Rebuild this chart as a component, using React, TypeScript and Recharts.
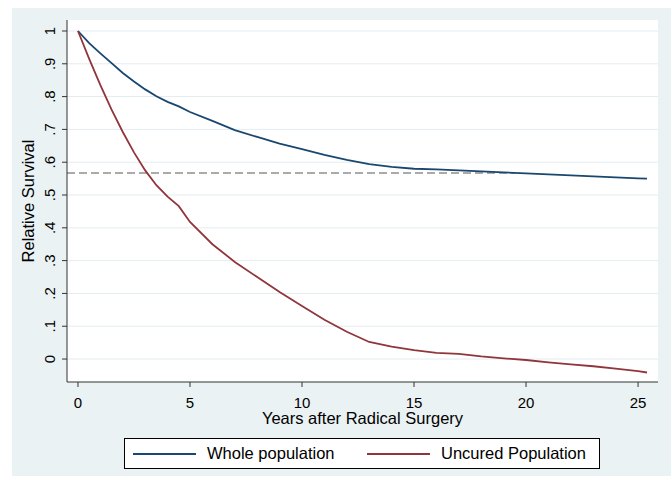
import { LineChart, Line, XAxis, YAxis, CartesianGrid, ReferenceLine } from 'recharts';

const years = [0, 0.5, 1, 1.5, 2, 2.5, 3, 3.5, 4, 4.5, 5, 6, 7, 8, 9, 10, 11, 12, 13, 14, 15, 16, 17, 18, 19, 20, 21, 22, 23, 24, 25, 25.4];

const wholePopulation = [
  1.0, 0.963, 0.932, 0.902, 0.872, 0.846, 0.822, 0.801, 0.784, 0.77, 0.753, 0.726, 0.698, 0.677, 0.657, 0.64,
  0.622, 0.607, 0.594, 0.586, 0.58, 0.578, 0.575, 0.572, 0.569, 0.566, 0.563, 0.56, 0.557, 0.554, 0.551, 0.55,
];

const uncuredPopulation = [
  1.0, 0.915, 0.835, 0.76, 0.692, 0.63, 0.575, 0.53, 0.495, 0.466, 0.418, 0.35, 0.296, 0.25, 0.204, 0.162,
  0.12, 0.083, 0.052, 0.038, 0.027, 0.019, 0.016, 0.008, 0.002, -0.003, -0.01, -0.016, -0.022, -0.029, -0.037, -0.041,
];

const xTicks = [0, 5, 10, 15, 20, 25];
const yTicks = [0, 0.1, 0.2, 0.3, 0.4, 0.5, 0.6, 0.7, 0.8, 0.9, 1];
const cureLevel = 0.567;
const cureLineEnd = 19.5;

const series = [
  { key: 'whole', name: 'Whole population', color: '#1a476f' },
  { key: 'uncured', name: 'Uncured Population', color: '#90353b' },
];

const data = years.map((t, i) => ({ t, whole: wholePopulation[i], uncured: uncuredPopulation[i] }));

const font = '"Liberation Sans", Arial, sans-serif';

const fmtY = (v: number) => (v === 0 ? '0' : v === 1 ? '1' : String(Math.round(v * 10) / 10).replace(/^0/, ''));

function YTick(props: any) {
  const { x, y, payload } = props;
  const cx = x - 5;
  return (
    <text x={cx} y={y} transform={`rotate(-90 ${cx} ${y})`} textAnchor="middle" fontSize={15} fill="#000" fontFamily={font}>
      {fmtY(payload.value)}
    </text>
  );
}

export default function App() {
  return (
    <div style={{ position: 'absolute', left: 0, top: 0, width: 671, height: 479, background: '#fff', fontFamily: font }}>
      <div style={{ position: 'absolute', left: 12, top: 8, width: 659, height: 468, background: '#eaf2f3' }}>
        <LineChart width={659} height={468} data={data} margin={{ top: 12, right: 13, left: 0, bottom: 0 }}>
          <CartesianGrid vertical={false} stroke="#e3ecf0" fill="#ffffff" horizontalValues={yTicks} />
          <XAxis
            type="number"
            dataKey="t"
            domain={[-0.49, 25.89]}
            ticks={xTicks}
            height={94}
            tickSize={5}
            tickMargin={10}
            stroke="#333"
            tick={{ fontSize: 15, fill: '#000', fontFamily: font }}
            label={{
              content: (p: any) => {
                const vb = p.viewBox || { x: 55, y: 374, width: 591 };
                return (
                  <text x={vb.x + vb.width / 2} y={vb.y + 42} textAnchor="middle" fontSize={16.5} fill="#000" fontFamily={font}>
                    Years after Radical Surgery
                  </text>
                );
              },
            }}
          />
          <YAxis
            type="number"
            domain={[-0.07, 1.0335]}
            ticks={yTicks}
            width={55}
            tickSize={5}
            tickMargin={2}
            stroke="#333"
            tick={<YTick />}
            label={{
              content: (p: any) => {
                const vb = p.viewBox || { x: 0, y: 12, height: 362 };
                const cy = vb.y + vb.height / 2;
                return (
                  <text x={22} y={cy} transform={`rotate(-90 22 ${cy})`} textAnchor="middle" fontSize={16.5} fill="#000" fontFamily={font}>
                    Relative Survival
                  </text>
                );
              },
            }}
          />
          <ReferenceLine
            segment={[
              { x: -0.49, y: cureLevel },
              { x: cureLineEnd, y: cureLevel },
            ]}
            stroke="#8f8f8f"
            strokeWidth={1.5}
            strokeDasharray="8 4"
          />
          {series.map((s) => (
            <Line
              key={s.key}
              type="linear"
              dataKey={s.key}
              name={s.name}
              stroke={s.color}
              strokeWidth={1.8}
              dot={false}
              isAnimationActive={false}
            />
          ))}
        </LineChart>
      </div>
      <div
        style={{
          position: 'absolute',
          left: 124,
          top: 438,
          width: 476,
          height: 31,
          boxSizing: 'border-box',
          border: '1px solid #000',
          background: '#fff',
          fontSize: 16.5,
        }}
      >
        {series.map((s, i) => (
          <div key={s.key} style={{ position: 'absolute', left: i === 0 ? 8 : 242, top: 0, height: 29, display: 'flex', alignItems: 'center' }}>
            <div style={{ width: 63, height: 2, background: s.color }} />
            <span style={{ marginLeft: 11, color: '#000' }}>{s.name}</span>
          </div>
        ))}
      </div>
    </div>
  );
}
